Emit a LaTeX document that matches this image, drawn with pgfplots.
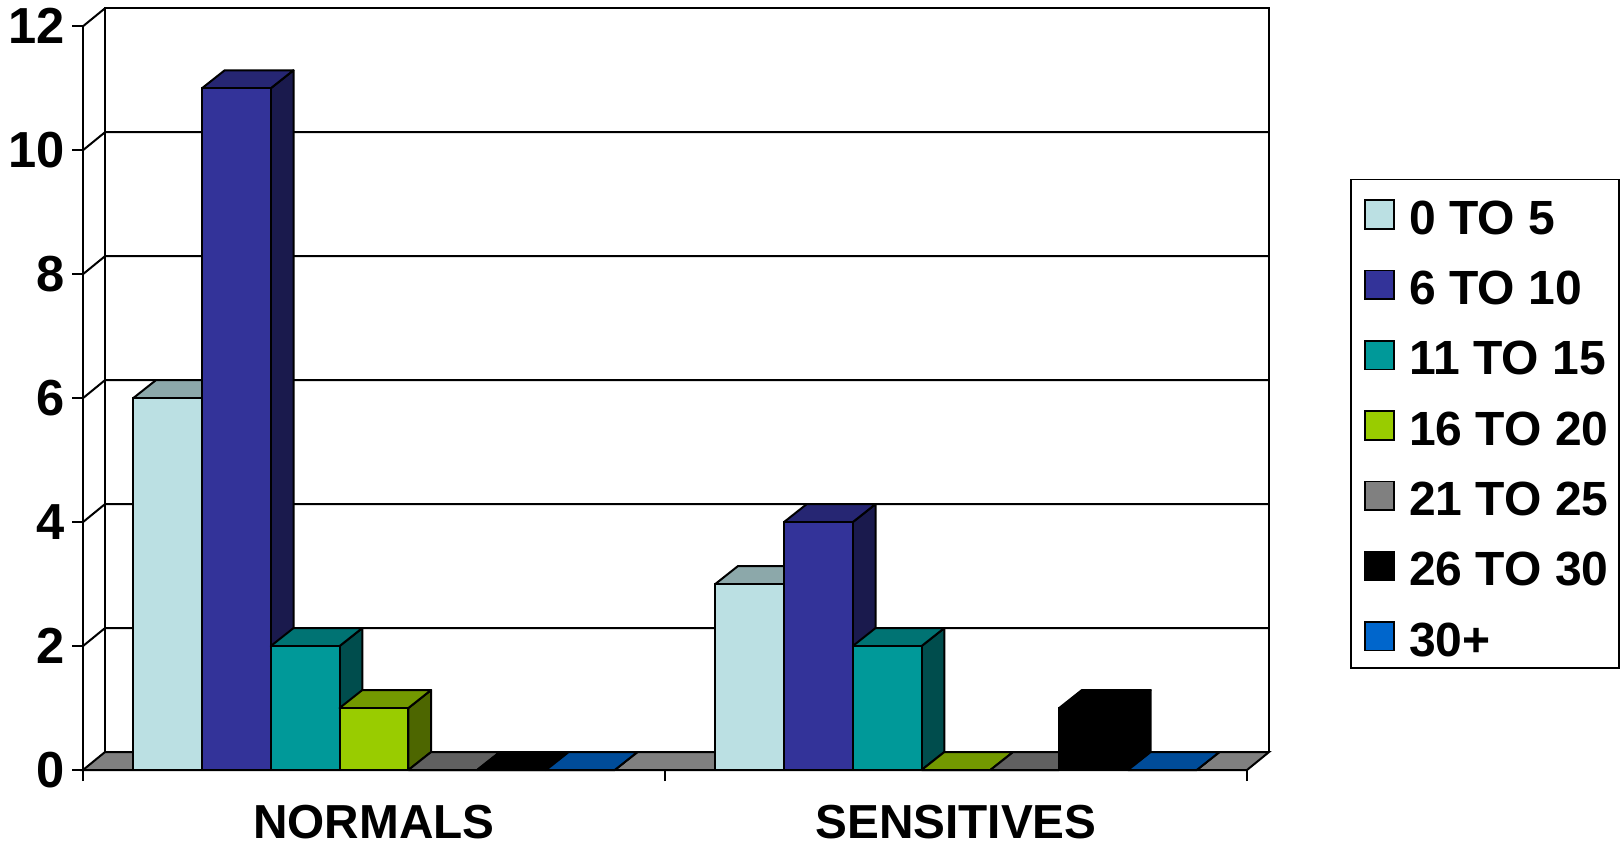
\documentclass[border=0pt]{standalone}
\usepackage{fontspec}
\setmainfont{Liberation Sans}
\usepackage{pgfplots}
\pgfplotsset{compat=1.18}

% Series colours: front face, top face (darker), side face (darkest)
\definecolor{AF}{HTML}{BBE0E3}\definecolor{AT}{HTML}{8CA8AA}\definecolor{AS}{HTML}{5E7072}
\definecolor{BF}{HTML}{333399}\definecolor{BT}{HTML}{262673}\definecolor{BS}{HTML}{1A1A4D}
\definecolor{CF}{HTML}{009999}\definecolor{CT}{HTML}{007373}\definecolor{CS}{HTML}{004D4D}
\definecolor{DF}{HTML}{99CC00}\definecolor{DT}{HTML}{739900}\definecolor{DS}{HTML}{4D6600}
\definecolor{EF}{HTML}{808080}\definecolor{ET}{HTML}{606060}\definecolor{ES}{HTML}{404040}
\definecolor{FF}{HTML}{000000}\definecolor{FT}{HTML}{000000}\definecolor{FS}{HTML}{000000}
\definecolor{GF}{HTML}{0066CC}\definecolor{GT}{HTML}{004C99}\definecolor{GS}{HTML}{003366}

% Bar geometry in axis units
\def\barw{0.1182}   % width of one bar
\def\margin{0.0863} % gap between group edge and first bar
\def\dpx{0.0390}    % depth, horizontal part
\def\dpy{0.29}      % depth, vertical part
\def\lw{1.5pt}      % outline weight

% Top and side faces of one bar: left edge, value, series letter
\newcommand{\barfaces}[3]{%
  \pgfmathsetmacro\xa{#1}%
  \pgfmathsetmacro\xb{#1+\barw}%
  \pgfmathsetmacro\xc{#1+\dpx}%
  \pgfmathsetmacro\xd{#1+\barw+\dpx}%
  \pgfmathsetmacro\yt{#2+\dpy}%
  \addplot[forget plot,draw=black,fill=#3S,line width=\lw,line join=round]
    coordinates {(\xb,0) (\xd,\dpy) (\xd,\yt) (\xb,#2)} -- cycle;
  \addplot[forget plot,draw=black,fill=#3T,line width=\lw,line join=round]
    coordinates {(\xa,#2) (\xc,\yt) (\xd,\yt) (\xb,#2)} -- cycle;
}
% One series: position index, value per group, series letter, legend text
\newcommand{\series}[5]{%
  \pgfmathsetmacro\la{\margin+#1*\barw}%
  \pgfmathsetmacro\lb{1+\margin+#1*\barw}%
  \pgfmathsetmacro\ca{\la+\barw/2}%
  \pgfmathsetmacro\cb{\lb+\barw/2}%
  \edef\lefta{\la}\edef\leftb{\lb}\edef\centa{\ca}\edef\centb{\cb}%
  \barfaces{\lefta}{#2}{#4}%
  \barfaces{\leftb}{#3}{#4}%
  \addplot[ybar,bar shift=0pt,bar width=\barw,draw=black,fill=#4F,
           line width=\lw,swatch]
    coordinates {(\centa,#2) (\centb,#3)};
  \addlegendentry{#5}%
}

\begin{document}
\begin{tikzpicture}
\useasboundingbox (-62.25pt,-57pt) rectangle (1155pt,577.5pt);
\begin{axis}[
  scale only axis,
  width=873pt,
  height=557.8pt,
  xmin=0,xmax=2,ymin=0,ymax=12,
  clip=false,
  axis lines*=left,
  axis line style={line width=\lw,black},
  tick style={line width=\lw,black},
  tick align=outside,
  major tick length=8.25pt,
  minor tick length=8.25pt,
  ytick={0,2,4,6,8,10,12},
  xtick={0.5,1.5},
  xticklabels={NORMALS,SENSITIVES},
  minor xtick={0,1,2},
  major x tick style={draw=none},
  /pgf/number format/assume math mode=true,
  yticklabel style={font=\fontsize{38}{42}\selectfont\bfseries,xshift=-2pt},
  xticklabel style={font=\fontsize{35.8}{40}\selectfont\bfseries,inner sep=0pt,yshift=-18.2pt},
  swatch/.style={legend image code/.code={
    \path[draw=none,fill=none] (-3pt,0pt) rectangle (21.5pt,0pt);
    \draw[draw=black,line width=1.2pt,##1] (0pt,-11.9pt) rectangle (21.5pt,9.6pt);}},
  legend style={
    at={(1.0885,0.795)},anchor=north west,
    draw=black,line width=1.3pt,
    font=\fontsize{36}{40}\selectfont\bfseries,
    inner xsep=7.8pt,inner ysep=9.1pt,
    row sep=20.7pt,column sep=10.9pt,
    nodes={inner sep=0pt,text height=32pt,text depth=0pt},
  },
  legend cell align=left,
]
% Floor of the chart
\addplot[forget plot,draw=black,fill=EF,line width=\lw]
  coordinates {(0,0) (0.0378,0.29) (2.0378,0.29) (2,0)} -- cycle;
% Walls: back edges and gridlines
\addplot[forget plot,black,line width=\lw]
  coordinates {(0.0378,0.29) (0.0378,12.29) (2.0378,12.29) (2.0378,0.29)};
\addplot[forget plot,black,line width=\lw] coordinates {(0,2) (0.0378,2.29) (2.0378,2.29)};
\addplot[forget plot,black,line width=\lw] coordinates {(0,4) (0.0378,4.29) (2.0378,4.29)};
\addplot[forget plot,black,line width=\lw] coordinates {(0,6) (0.0378,6.29) (2.0378,6.29)};
\addplot[forget plot,black,line width=\lw] coordinates {(0,8) (0.0378,8.29) (2.0378,8.29)};
\addplot[forget plot,black,line width=\lw] coordinates {(0,10) (0.0378,10.29) (2.0378,10.29)};
\addplot[forget plot,black,line width=\lw] coordinates {(0,12) (0.0378,12.29)};
% Series: index, NORMALS, SENSITIVES
\series{0}{6}{3}{A}{0 TO 5}
\series{1}{11}{4}{B}{6 TO 10}
\series{2}{2}{2}{C}{11 TO 15}
\series{3}{1}{0}{D}{16 TO 20}
\series{4}{0}{0}{E}{21 TO 25}
\series{5}{0}{1}{F}{26 TO 30}
\series{6}{0}{0}{G}{30+}
\end{axis}
\end{tikzpicture}
\end{document}
